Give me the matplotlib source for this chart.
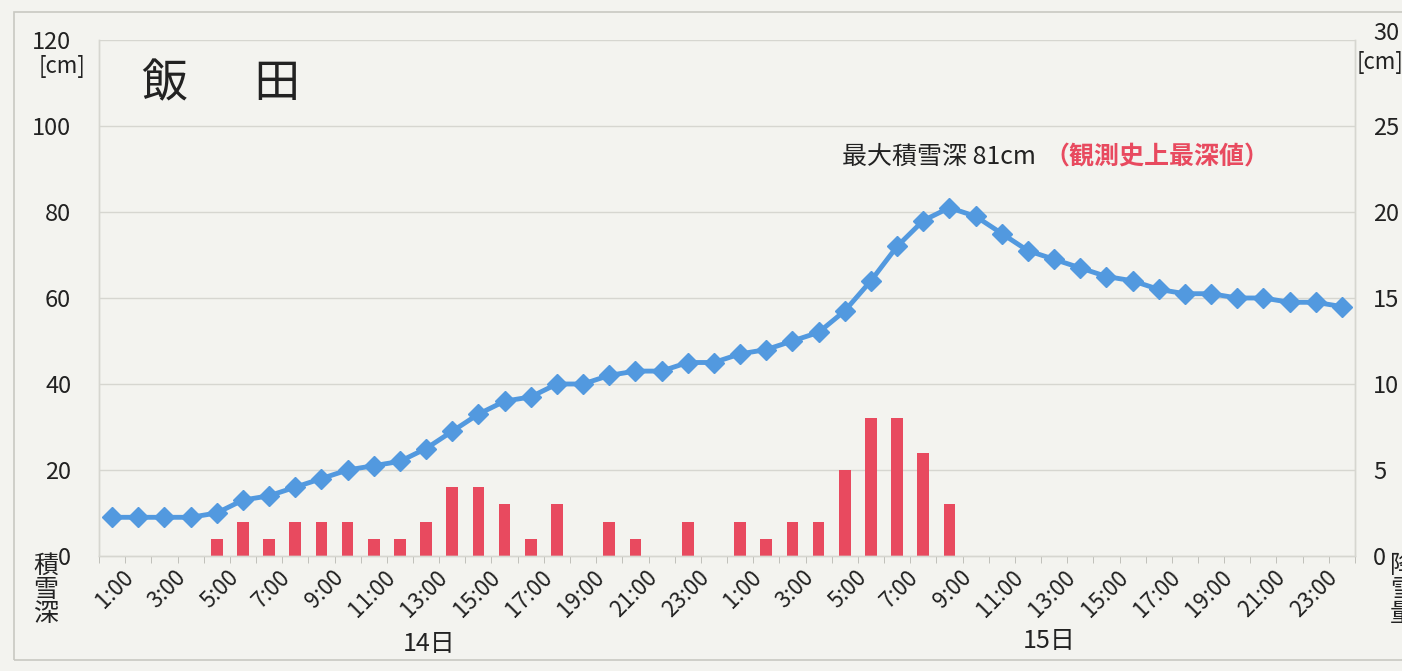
import matplotlib.pyplot as plt
from matplotlib.patches import Rectangle
import matplotlib.transforms as mtransforms

plt.rcParams['font.family'] = ['Noto Sans CJK JP', 'DejaVu Sans']

# hourly labels, 14日 1:00 .. 15日 24:00
hours = [f"{h}:00" for h in range(1, 25)] * 2
days = ["14日", "15日"]

# snow depth [cm] (left axis)
depth = [9, 9, 9, 9, 10, 13, 14, 16, 18, 20, 21, 22, 25, 29, 33, 36, 37, 40, 40, 42, 43, 43, 45, 45,
         47, 48, 50, 52, 57, 64, 72, 78, 81, 79, 75, 71, 69, 67, 65, 64, 62, 61, 61, 60, 60, 59, 59, 58]

# hourly snowfall [cm] (right axis)
snowfall = [0, 0, 0, 0, 1, 2, 1, 2, 2, 2, 1, 1, 2, 4, 4, 3, 1, 3, 0, 2, 1, 0, 2, 0,
            2, 1, 2, 2, 5, 8, 8, 6, 3, 0, 0, 0, 0, 0, 0, 0, 0, 0, 0, 0, 0, 0, 0, 0]

bg = "#f3f3ef"
grid_c = "#d6d6d0"
blue = "#5299df"
red = "#e84a5f"
txt = "#222222"

fig = plt.figure(figsize=(14.02, 6.71), dpi=100, facecolor=bg)
W, H = 1402, 671

def fx(px):
    return px / W

def fy(py):
    return 1 - py / H

ax = fig.add_axes([fx(99), fy(556), fx(1355) - fx(99), fy(40) - fy(556)])
ax.set_facecolor("none")
ax2 = ax.twinx()
ax.set_zorder(2)
ax2.set_zorder(1)

x = list(range(len(depth)))

# bars on the right axis
ax2.bar(x, snowfall, width=0.45, color=red, zorder=2)
ax2.set_ylim(0, 30)
ax2.set_yticks(range(0, 31, 5))

# line on the left axis
ax.plot(x, depth, color=blue, lw=3.5, marker="D", markersize=10, zorder=3)
ax.set_ylim(0, 120)
ax.set_xlim(-0.5, len(x) - 0.5)
ax.set_yticks(range(0, 121, 20))
ax2.set_xlim(-0.5, len(x) - 0.5)

# grid lines drawn on the back axis
for v in range(20, 121, 20):
    ax2.axhline(v / 4, color=grid_c, lw=1, zorder=0)

for a in (ax, ax2):
    a.spines["top"].set_visible(False)
    for s in ("left", "right", "bottom"):
        a.spines[s].set_color(grid_c)
        a.spines[s].set_linewidth(1)

ax.tick_params(axis="y", length=0, pad=20, labelsize=17, labelcolor=txt)
ax2.tick_params(axis="y", length=0, pad=13, labelsize=17, labelcolor=txt)

# the top right label sits a little higher, as in the scan
up = mtransforms.ScaledTranslation(0, 9 / 100, fig.dpi_scale_trans)
top_lab = ax2.get_yticklabels()[-1]
top_lab.set_transform(top_lab.get_transform() + up)

# x ticks: labels every 2 hours, small marks between categories
ax.set_xticks(x[::2])
ax.set_xticklabels(hours[::2], rotation=45, ha="right", rotation_mode="anchor",
                   fontsize=16, color=txt)
ax.set_xticks([i - 0.5 for i in range(len(x) + 1)], minor=True)
ax.tick_params(axis="x", which="major", length=0, pad=7)
ax.tick_params(axis="x", which="minor", length=5, color="#b8b8b2")
offset = mtransforms.ScaledTranslation(10 / 100, 0, fig.dpi_scale_trans)
for lab in ax.get_xticklabels():
    lab.set_transform(lab.get_transform() + offset)
ax2.tick_params(axis="x", length=0, labelbottom=False)

# day labels
trans = mtransforms.blended_transform_factory(ax.transData, fig.transFigure)
ax.text(12.1, fy(644), days[0], transform=trans, ha="center", va="center",
        fontsize=18, color=txt)
ax.text(35.8, fy(641), days[1], transform=trans, ha="center", va="center",
        fontsize=18, color=txt)

# axis unit labels
fig.text(fx(62), fy(66), "[cm]", ha="center", va="center", fontsize=16, color=txt)
fig.text(fx(1357), fy(62), "[cm]", ha="left", va="center", fontsize=16, color=txt)
fig.text(fx(46), fy(590), "積\n雪\n深", ha="center", va="center", fontsize=18,
         linespacing=0.92, color=txt)
fig.text(fx(1390), fy(590), "降\n雪\n量", ha="left", va="center", fontsize=18,
         linespacing=0.92, color=txt)

# station name
fig.text(fx(142), fy(84), "飯　  田", ha="left", va="center", fontsize=33, color=txt)

# annotation of the maximum
fig.text(fx(842), fy(157), "最大積雪深 81cm", ha="left", va="center", fontsize=18,
         color=txt)
fig.text(fx(1044), fy(157), "（観測史上最深値）", ha="left", va="center", fontsize=18,
         color=red, fontweight="bold")

# outer chart border
fig.patches.append(Rectangle((fx(14), fy(660)), 1.0, fy(12) - fy(660),
                             transform=fig.transFigure, fill=False,
                             edgecolor="#c8c8c2", lw=1.2))

fig.savefig("out.png", dpi=100, facecolor=bg)
